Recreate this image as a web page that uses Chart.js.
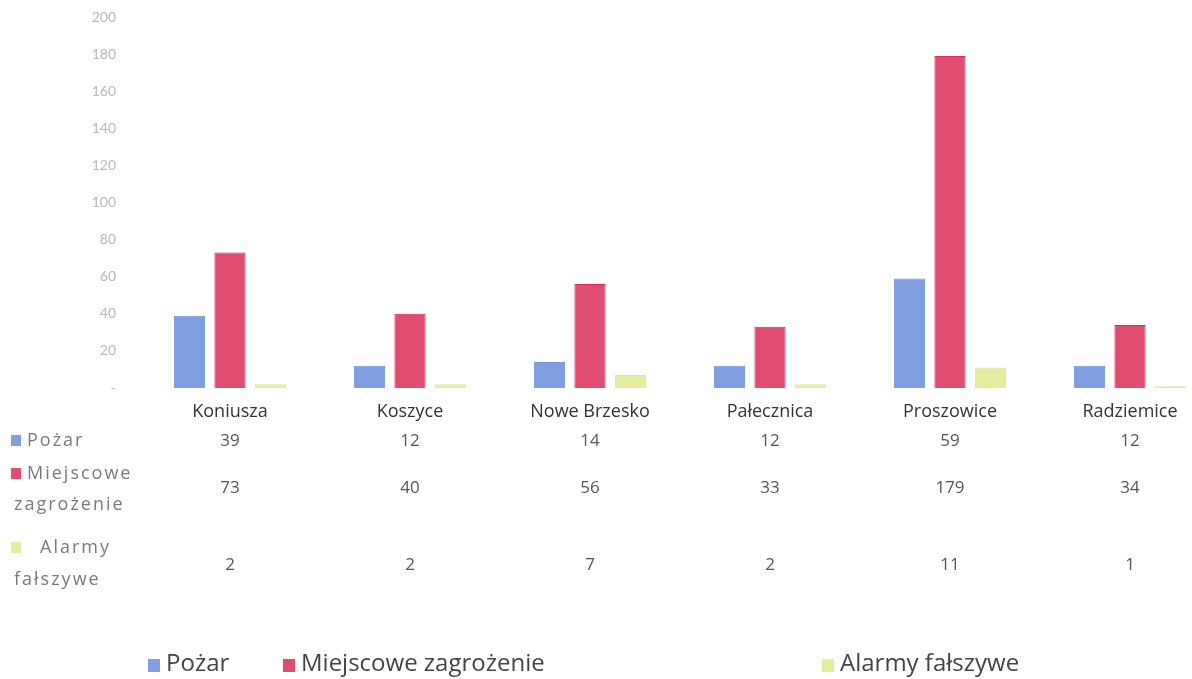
<!DOCTYPE html>
<html>
<head>
<meta charset="utf-8">
<script src="https://cdn.jsdelivr.net/npm/chart.js@4.4.1/dist/chart.umd.min.js"></script>
<style>
  html, body { margin: 0; padding: 0; background: #fff; overflow: hidden; }
  .wrap { width: 1192px; height: 679px; overflow: hidden; }
  .inner { width: 1240px; height: 679px; }
  canvas { display: block; }
</style>
</head>
<body>
<div class="wrap"><div class="inner"><canvas id="chart"></canvas></div></div>
<script>
var categories = ['Koniusza', 'Koszyce', 'Nowe Brzesko', 'Pałecznica', 'Proszowice', 'Radziemice'];
var pozar = [39, 12, 14, 12, 59, 12];
var miejscowe = [73, 40, 56, 33, 179, 34];
var alarmy = [2, 2, 7, 2, 11, 1];
var yTicks = [0, 20, 40, 60, 80, 100, 120, 140, 160, 180, 200];
var seriesNames = ['Pożar', 'Miejscowe zagrożenie', 'Alarmy fałszywe'];
var tableLabels = [['Pożar'], ['Miejscowe', 'zagrożenie'], ['Alarmy', 'fałszywe']];

var FONT = "'Open Sans', 'Noto Sans', sans-serif";
var colors = ['#7f9fe2', '#e14c71', '#e4ec9e'];
var borders = ['#7396dc', '#d8285a', '#dfe795'];

var tablePlugin = {
  id: 'dataTable',
  afterDraw: function (chart) {
    var ctx = chart.ctx;
    var x = chart.scales.x;
    var series = [pozar, miejscowe, alarmy];
    var rowY = [441, 488, 565];
    var labelY = [[441], [474, 505], [548, 580]];

    ctx.save();
    ctx.textBaseline = 'middle';

    series.forEach(function (values, r) {
      // row header with colour key
      ctx.fillStyle = colors[r];
      ctx.fillRect(11, labelY[r][0] - 6, 10, 11);
      ctx.fillStyle = '#7a7a7a';
      ctx.font = '18px ' + FONT;
      ctx.letterSpacing = '2px';
      ctx.textAlign = 'left';
      tableLabels[r].forEach(function (line, k) {
        ctx.fillText(line, k === 0 ? (r === 2 ? 40 : 27) : 14, labelY[r][k]);
      });

      // values under each category
      ctx.letterSpacing = '0px';
      ctx.fillStyle = '#555';
      ctx.font = '17px ' + FONT;
      ctx.textAlign = 'center';
      values.forEach(function (v, i) {
        ctx.fillText(String(v), x.getPixelForValue(i), rowY[r]);
      });
    });

    // legend
    var legendX = [148, 283, 822];
    ctx.font = '24px ' + FONT;
    ctx.textAlign = 'left';
    seriesNames.forEach(function (name, i) {
      ctx.fillStyle = colors[i];
      ctx.fillRect(legendX[i], 659, 12, 13);
      ctx.fillStyle = '#444';
      ctx.fillText(name, legendX[i] + 18, 664);
    });

    ctx.restore();
  }
};

new Chart(document.getElementById('chart'), {
  type: 'bar',
  data: {
    labels: categories,
    datasets: [
      { label: seriesNames[0], data: pozar, backgroundColor: colors[0], borderColor: borders[0], borderWidth: 1 },
      { label: seriesNames[1], data: miejscowe, backgroundColor: colors[1], borderColor: borders[1], borderWidth: 1 },
      { label: seriesNames[2], data: alarmy, backgroundColor: colors[2], borderColor: borders[2], borderWidth: 1 }
    ]
  },
  options: {
    responsive: true,
    maintainAspectRatio: false,
    animation: false,
    layout: { padding: { top: 17, right: 20, left: 0, bottom: 0 } },
    datasets: { bar: { categoryPercentage: 0.675, barPercentage: 0.77 } },
    plugins: { legend: { display: false }, tooltip: { enabled: false } },
    scales: {
      x: {
        grid: { display: false },
        border: { display: false },
        ticks: { color: '#333', font: { family: FONT, size: 18 }, padding: 5, maxRotation: 0 },
        afterFit: function (scale) {
          scale.height = 679 - 388;
          scale.paddingLeft = 0;
          scale.paddingRight = 0;
        }
      },
      y: {
        min: 0,
        max: 200,
        afterBuildTicks: function (scale) {
          scale.ticks = yTicks.map(function (v) { return { value: v }; });
        },
        grid: { display: false, drawTicks: false },
        border: { display: false },
        ticks: {
          color: '#b8b8b8',
          font: { family: "Lato, sans-serif", size: 14 },
          padding: 24,
          callback: function (v) { return v === 0 ? '-' : v; }
        },
        afterFit: function (scale) {
          scale.width = 140;
          scale.paddingTop = 0;
          scale.paddingBottom = 0;
        }
      }
    }
  },
  plugins: [tablePlugin]
});
</script>
</body>
</html>
